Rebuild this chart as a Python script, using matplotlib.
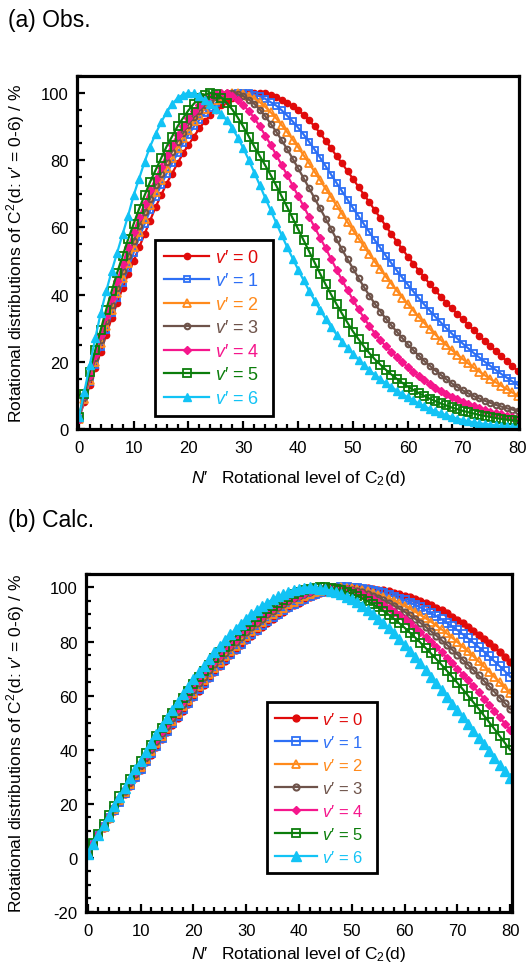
import matplotlib
matplotlib.use('Agg')
import matplotlib.pyplot as plt
from matplotlib.ticker import MultipleLocator

plt.rcParams['font.family'] = ['Liberation Sans', 'DejaVu Sans']
plt.rcParams['mathtext.fontset'] = 'custom'
plt.rcParams['mathtext.rm'] = 'Liberation Sans'
plt.rcParams['mathtext.it'] = 'Liberation Sans:italic'
plt.rcParams['axes.unicode_minus'] = False

# rotational level N'
n_levels = list(range(81))

# (a) observed distributions, v' = 0..6
obs_v0 = [3, 8, 13, 18, 23, 28, 33, 37.5, 42, 46,
          50, 54, 58, 62, 66, 69.5, 73, 76, 79, 82,
          84.5, 87, 89.5, 91.5, 93.5, 95, 96.5, 97.5, 98.5, 99.3,
          99.8, 100, 100, 100, 99.8, 99.4, 98.8, 98, 97, 96,
          94.8, 93.4, 91.8, 90, 88, 85.8, 83.5, 81.2, 79, 76.7,
          74.4, 72, 69.7, 67.4, 65, 62.7, 60.3, 58, 55.7, 53.5,
          51.3, 49.2, 47.1, 45.1, 43.1, 41.2, 39.4, 37.6, 35.9, 34.2,
          32.6, 31, 29.4, 27.8, 26.2, 24.7, 23.2, 21.7, 20.2, 18.8,
          17.4]
obs_v1 = [3, 8.5, 14, 19, 24.5, 29.5, 34.5, 39, 43.5, 48,
          52.5, 57, 61, 65, 69, 72.5, 76, 79, 82, 85,
          87.5, 90, 92, 94, 95.5, 97, 98, 99, 99.6, 100,
          100, 99.9, 99.5, 99, 98.2, 97.2, 96.2, 94.8, 93.2, 91.5,
          89.6, 87.6, 85.4, 83.1, 80.7, 78.2, 75.7, 73.2, 70.7, 68.2,
          65.7, 63.3, 60.9, 58.5, 56.1, 53.8, 51.5, 49.3, 47.1, 45,
          42.9, 40.9, 38.9, 37, 35.2, 33.4, 31.7, 30, 28.4, 26.9,
          25.4, 24, 22.6, 21.3, 20, 18.8, 17.6, 16.4, 15.3, 14.2,
          13.2]
obs_v2 = [3, 9, 14.5, 20, 25.5, 30.5, 35.5, 40.5, 45, 49.5,
          54, 58.5, 62.5, 66.5, 70.5, 74, 77.5, 80.5, 83.5, 86.5,
          89, 91.5, 93.5, 95.3, 96.8, 98, 99, 99.6, 100, 100,
          99.7, 99.1, 98.3, 97.2, 95.8, 94.2, 92.4, 90.4, 88.3, 86.1,
          83.8, 81.4, 79, 76.5, 74, 71.5, 69, 66.5, 64, 61.5,
          59.1, 56.7, 54.3, 52, 49.7, 47.5, 45.3, 43.2, 41.1, 39.1,
          37.1, 35.2, 33.3, 31.5, 29.8, 28.1, 26.5, 25, 23.5, 22.1,
          20.8, 19.5, 18.3, 17.1, 16, 14.9, 13.9, 12.9, 11.9, 10.9,
          9.9]
obs_v3 = [3, 9.5, 15.5, 21, 26.5, 32, 37, 42, 47, 51.5,
          56, 60.5, 64.5, 68.5, 72.5, 76, 79.5, 82.5, 85.5, 88,
          90.5, 92.7, 94.6, 96.3, 97.7, 98.8, 99.5, 100, 100, 99.6,
          99, 98, 96.7, 95, 93, 90.8, 88.4, 85.9, 83.2, 80.4,
          77.5, 74.6, 71.6, 68.6, 65.6, 62.6, 59.5, 56.4, 53.4, 50.5,
          47.7, 44.9, 42.2, 39.6, 37.2, 34.9, 32.8, 30.8, 28.9, 27,
          25.2, 23.4, 21.8, 20.2, 18.8, 17.4, 16.1, 14.8, 13.6, 12.5,
          11.5, 10.6, 9.8, 9.1, 8.4, 7.8, 7.2, 6.7, 6.2, 5.8,
          5.4]
obs_v4 = [3, 10, 16, 22, 28, 33.5, 39, 44, 49, 54,
          58.5, 63, 67, 71, 74.5, 78, 81.5, 84.5, 87.5, 90,
          92.5, 94.5, 96.3, 97.8, 99, 99.7, 100, 99.8, 99, 97.8,
          96.3, 94.6, 92.5, 90, 87.3, 84.5, 81.5, 78.5, 75.5, 72.4,
          69.3, 66.2, 63.1, 60, 56.9, 53.8, 50.6, 47.4, 44.3, 41.3,
          38.4, 35.6, 33, 30.6, 28.4, 26.4, 24.6, 22.9, 21.3, 19.8,
          18.4, 17, 15.7, 14.5, 13.4, 12.3, 11.3, 10.4, 9.6, 8.8,
          8.1, 7.4, 6.8, 6.2, 5.7, 5.2, 4.8, 4.4, 4, 3.6,
          3.3]
obs_v5 = [3.5, 10.5, 17, 23.5, 29.5, 35.5, 41, 46.5, 51.5, 56.5,
          61, 65.5, 69.5, 73.5, 77, 80.5, 84, 87, 90, 92.5,
          94.8, 96.8, 98.4, 99.5, 100, 99.6, 98.6, 97, 95, 92.6,
          89.9, 87, 84, 81.2, 78.4, 75.5, 72.4, 69.2, 66, 62.7,
          59.4, 56.1, 52.8, 49.5, 46.2, 43, 40, 37.1, 34.3, 31.6,
          29, 26.7, 24.5, 22.5, 20.7, 19.1, 17.6, 16.2, 14.9, 13.7,
          12.6, 11.6, 10.7, 9.8, 9, 8.3, 7.6, 7, 6.4, 5.9,
          5.4, 5, 4.6, 4.2, 3.9, 3.6, 3.3, 3, 2.8, 2.6,
          2.4]
obs_v6 = [3.5, 11, 19, 27, 34.5, 41, 47, 52.5, 58, 63.5,
          69.5, 74.5, 79.5, 84, 87.8, 91.2, 94.2, 96.6, 98.4, 99.5,
          100, 99.8, 99, 98, 96.8, 95.3, 93.7, 91.8, 89.4, 86.7,
          83.5, 80, 76.3, 72.5, 68.7, 65, 61.3, 57.6, 54.1, 50.7,
          47.4, 44.2, 41.1, 38.2, 35.4, 32.8, 30.3, 28.1, 26, 24.1,
          22.3, 20.6, 19, 17.5, 16.1, 14.8, 13.6, 12.5, 11.4, 10.4,
          9.4, 8.5, 7.6, 6.8, 6, 5.3, 4.7, 4.1, 3.6, 3.1,
          2.7, 2.3, 2, 1.7, 1.5, 1.3, 1.1, 0.9, 0.8, 0.7,
          0.6]

# (b) calculated distributions, v' = 0..6
calc_v0 = [2, 5, 8, 11, 14.5, 17.5, 20.5, 23.5, 26.5, 29.5,
           32.5, 35.3, 38.2, 41, 43.8, 46.5, 49.2, 51.8, 54.4, 56.9,
           59.4, 61.8, 64.1, 66.4, 68.6, 70.8, 72.9, 74.9, 76.8, 78.7,
           80.5, 82.2, 83.9, 85.5, 87, 88.4, 89.8, 91.1, 92.3, 93.4,
           94.4, 95.4, 96.3, 97.1, 97.8, 98.4, 98.9, 99.4, 99.7, 99.9,
           100, 100, 99.9, 99.7, 99.5, 99.2, 98.9, 98.5, 98, 97.5,
           97, 96.4, 95.7, 95, 94.3, 93.5, 92.5, 91.5, 90.4, 89.2,
           88, 86.7, 85.4, 84, 82.5, 81, 79.4, 77.8, 76.1, 74.3,
           72.5]
calc_v1 = [2, 5, 8.2, 11.3, 14.6, 17.7, 20.8, 23.9, 26.9, 29.9,
           32.9, 35.8, 38.7, 41.5, 44.3, 47, 49.7, 52.3, 54.9, 57.4,
           59.9, 62.3, 64.6, 66.9, 69.1, 71.3, 73.4, 75.4, 77.3, 79.2,
           81, 82.7, 84.4, 86, 87.5, 88.9, 90.3, 91.6, 92.8, 93.9,
           94.9, 95.9, 96.8, 97.6, 98.3, 98.9, 99.4, 99.8, 100, 100,
           99.9, 99.7, 99.4, 99.1, 98.7, 98.3, 97.8, 97.2, 96.6, 95.9,
           95.2, 94.4, 93.5, 92.6, 91.6, 90.5, 89.4, 88.2, 86.9, 85.6,
           84.2, 82.7, 81.2, 79.6, 78, 76.3, 74.5, 72.7, 70.9, 69,
           67]
calc_v2 = [2, 5.2, 8.4, 11.6, 14.9, 18.1, 21.3, 24.4, 27.5, 30.6,
           33.6, 36.6, 39.5, 42.4, 45.2, 48, 50.7, 53.4, 56, 58.5,
           61, 63.4, 65.8, 68.1, 70.3, 72.5, 74.6, 76.6, 78.5, 80.4,
           82.2, 83.9, 85.5, 87.1, 88.6, 90, 91.3, 92.5, 93.7, 94.8,
           95.8, 96.7, 97.5, 98.2, 98.8, 99.3, 99.7, 99.9, 100, 99.9,
           99.7, 99.4, 99, 98.5, 97.9, 97.3, 96.6, 95.8, 95, 94.1,
           93.1, 92.1, 91, 89.8, 88.6, 87.3, 85.9, 84.5, 83, 81.4,
           79.8, 78.1, 76.4, 74.6, 72.7, 70.8, 68.9, 66.9, 64.9, 62.9,
           60.8]
calc_v3 = [2, 5.3, 8.6, 11.9, 15.2, 18.5, 21.7, 24.9, 28.1, 31.2,
           34.3, 37.3, 40.3, 43.2, 46.1, 48.9, 51.7, 54.4, 57, 59.6,
           62.1, 64.6, 67, 69.3, 71.6, 73.8, 75.9, 77.9, 79.9, 81.8,
           83.6, 85.3, 86.9, 88.5, 90, 91.4, 92.7, 93.9, 95, 96,
           96.9, 97.7, 98.4, 99, 99.5, 99.8, 100, 100, 99.8, 99.5,
           99.2, 98.7, 98.2, 97.6, 96.9, 96.2, 95.3, 94.3, 93.2, 92.1,
           91, 89.7, 88.4, 86.9, 85.4, 83.8, 82.2, 80.5, 78.8, 77,
           75.2, 73.3, 71.4, 69.5, 67.5, 65.5, 63.5, 61.4, 59.3, 57.2,
           55]
calc_v4 = [2, 5.4, 8.8, 12.2, 15.5, 18.9, 22.2, 25.5, 28.7, 31.9,
           35, 38.1, 41.1, 44.1, 47, 49.9, 52.7, 55.4, 58.1, 60.7,
           63.3, 65.8, 68.2, 70.5, 72.8, 75, 77.1, 79.1, 81.1, 83,
           84.8, 86.5, 88.1, 89.6, 91, 92.3, 93.5, 94.6, 95.6, 96.5,
           97.3, 98, 98.6, 99.1, 99.5, 99.8, 100, 99.9, 99.6, 99.2,
           98.7, 98.1, 97.4, 96.6, 95.7, 94.7, 93.6, 92.4, 91.1, 89.7,
           88.2, 86.7, 85.1, 83.4, 81.6, 79.8, 77.9, 76, 74, 72,
           69.9, 67.8, 65.6, 63.4, 61.2, 58.9, 56.6, 54.3, 52, 49.6,
           47.2]
calc_v5 = [2, 5.5, 9, 12.5, 15.9, 19.3, 22.7, 26, 29.3, 32.5,
           35.7, 38.8, 41.9, 44.9, 47.9, 50.8, 53.6, 56.4, 59.1, 61.7,
           64.3, 66.8, 69.2, 71.5, 73.8, 76, 78.1, 80.1, 82, 83.9,
           85.7, 87.4, 89, 90.5, 91.9, 93.2, 94.4, 95.5, 96.5, 97.4,
           98.2, 98.9, 99.4, 99.8, 100, 100, 99.8, 99.4, 98.9, 98.3,
           97.6, 96.8, 95.9, 94.9, 93.8, 92.6, 91.3, 89.9, 88.4, 86.8,
           85.1, 83.3, 81.5, 79.6, 77.6, 75.6, 73.5, 71.4, 69.2, 67,
           64.7, 62.4, 60, 57.6, 55.2, 52.7, 50.2, 47.7, 45.1, 42.5,
           39.9]
calc_v6 = [1.5, 5, 8.5, 12, 15.5, 19, 22.5, 26, 29.4, 32.7,
           36, 39.3, 42.5, 45.7, 48.8, 51.8, 54.8, 57.7, 60.5, 63.3,
           66, 68.6, 71.1, 73.6, 76, 78.3, 80.5, 82.6, 84.6, 86.6,
           88.4, 90.1, 91.7, 93.1, 94.4, 95.6, 96.7, 97.6, 98.4, 99.1,
           99.6, 99.9, 100, 99.9, 99.6, 99.3, 98.8, 98.2, 97.5, 96.6,
           95.6, 94.5, 93.2, 91.8, 90.2, 88.5, 86.8, 85, 83, 80.9,
           78.8, 76.6, 74.3, 72, 69.5, 67, 64.5, 62, 59.5, 57,
           54.5, 52, 49.5, 47, 44.5, 42, 39.5, 37, 34.5, 32,
           29.5]

obs_series = [obs_v0, obs_v1, obs_v2, obs_v3, obs_v4, obs_v5, obs_v6]
calc_series = [calc_v0, calc_v1, calc_v2, calc_v3, calc_v4, calc_v5, calc_v6]

# marker style for each v'
styles = [
    dict(color='#e00a0a', marker='o', mfc='#e00a0a', ms=4.5),
    dict(color='#2d6ff5', marker='s', mfc='none', ms=5, mew=1.3),
    dict(color='#ff8a1c', marker='^', mfc='none', ms=5.5, mew=1.3),
    dict(color='#6e534a', marker='o', mfc='none', ms=4, mew=1.5),
    dict(color='#f5168c', marker='D', mfc='#f5168c', ms=4),
    dict(color='#0b7d0b', marker='s', mfc='none', ms=5.5, mew=1.3),
    dict(color='#12c3f5', marker='^', mfc='#12c3f5', ms=6),
]

ylabel = "Rotational distributions of C$^2$(d: $v$\u2032 = 0-6) / %"
xlabel = "$N$\u2032   Rotational level of C$_2$(d)"


def draw_panel(ax, series, ylim, yticks, legend_xy, scale, leg_size, leg_space, xpad):
    for i, vals in enumerate(series):
        st = dict(styles[i])
        st['ms'] = st['ms'] * scale
        ax.plot(n_levels, vals, lw=1.6, label=f"$v$\u2032 = {i}  ", **st)

    ax.set_xlim(-0.3, 80.3)
    ax.set_ylim(*ylim)
    ax.set_xticks(range(0, 81, 10))
    ax.set_yticks(yticks)
    ax.xaxis.set_minor_locator(MultipleLocator(2))
    ax.yaxis.set_minor_locator(MultipleLocator(5))
    ax.tick_params(which='both', direction='in', width=1.6, top=False, right=False,
                   labelsize=12)
    ax.tick_params(which='major', length=6)
    ax.tick_params(which='minor', length=3.5)
    ax.tick_params(axis='y', pad=6)
    ax.tick_params(axis='x', pad=8)
    for sp in ax.spines.values():
        sp.set_linewidth(2.3)

    ax.set_xlabel(xlabel, fontsize=12.5, labelpad=xpad)
    ax.set_ylabel(ylabel, fontsize=12.5)

    leg = ax.legend(loc='lower left', bbox_to_anchor=legend_xy, borderaxespad=0,
                    fancybox=False, edgecolor='black', framealpha=1, fontsize=leg_size,
                    handlelength=2.5, handletextpad=0.3, labelspacing=leg_space,
                    borderpad=0.5, labelcolor='linecolor', numpoints=1)
    leg.get_frame().set_linewidth(2)


fig = plt.figure(figsize=(5.32, 9.70), dpi=100)
ax_a = fig.add_axes([0.145, 0.5567, 0.831, 0.3639])
ax_b = fig.add_axes([0.162, 0.0588, 0.800, 0.3485])

draw_panel(ax_a, obs_series, (0, 105), range(0, 101, 20), (0.176, 0.037), 1.0, 13, 0.36, 9)
draw_panel(ax_b, calc_series, (-20, 105), range(-20, 101, 20), (0.425, 0.115), 1.1, 12, 0.42, 4)

ax_a.yaxis.set_label_coords(0.05, 0.5567 + 0.3639 / 2, transform=fig.transFigure)
ax_b.yaxis.set_label_coords(0.05, 0.0588 + 0.3485 / 2, transform=fig.transFigure)

fig.text(0.015, 1 - 20 / 970, "(a) Obs.", fontsize=16.5, va='center', ha='left')
fig.text(0.015, 1 - 521 / 970, "(b) Calc.", fontsize=16.5, va='center', ha='left')

fig.savefig('out.png', dpi=100)
